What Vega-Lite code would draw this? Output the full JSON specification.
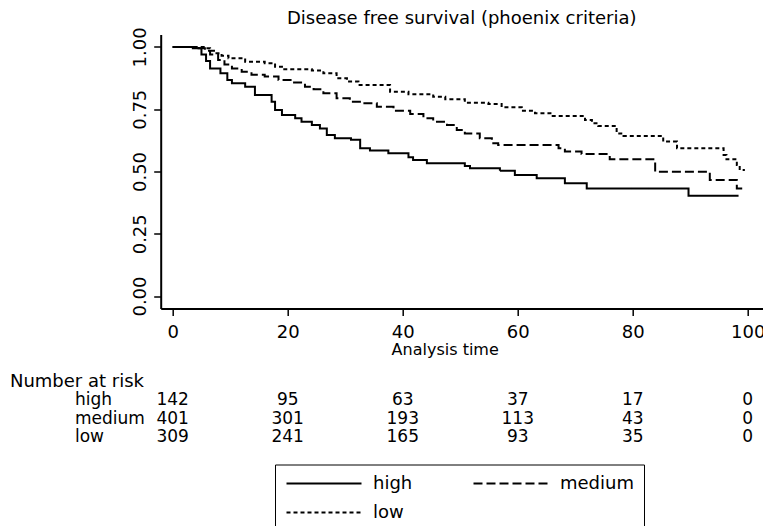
{
  "$schema": "https://vega.github.io/schema/vega-lite/v6.json",
  "autosize": {"type": "none"},
  "width": 602,
  "height": 274,
  "padding": {"left": 160.7, "top": 34.5, "right": 0.3, "bottom": 217.5},
  "background": "white",
  "config": {
    "font": "DejaVu Sans",
    "view": {"stroke": null},
    "axis": {
      "domainColor": "black", "domainWidth": 2, "tickColor": "black", "tickWidth": 1.5, "tickSize": 7,
      "labelFontSize": 18, "labelColor": "black", "grid": false, "titleColor": "black", "titleFontWeight": "normal"
    },
    "text": {"font": "DejaVu Sans", "fontSize": 17, "color": "black"}
  },
  "title": {"text": "Disease free survival (phoenix criteria)", "fontSize": 18, "fontWeight": "normal", "color": "black", "anchor": "middle", "frame": "group", "offset": -1},
  "datasets": {
    "km": [
      {"group": "high", "time": 0, "surv": 1.0},
      {"group": "high", "time": 3.5, "surv": 0.995},
      {"group": "high", "time": 5.0, "surv": 0.97},
      {"group": "high", "time": 5.8, "surv": 0.944},
      {"group": "high", "time": 6.5, "surv": 0.914},
      {"group": "high", "time": 8.3, "surv": 0.894},
      {"group": "high", "time": 9.5, "surv": 0.867},
      {"group": "high", "time": 10.3, "surv": 0.854},
      {"group": "high", "time": 12.6, "surv": 0.84},
      {"group": "high", "time": 14.3, "surv": 0.807},
      {"group": "high", "time": 17.2, "surv": 0.78},
      {"group": "high", "time": 17.8, "surv": 0.747},
      {"group": "high", "time": 19.0, "surv": 0.727},
      {"group": "high", "time": 21.3, "surv": 0.714},
      {"group": "high", "time": 22.4, "surv": 0.70},
      {"group": "high", "time": 24.2, "surv": 0.687},
      {"group": "high", "time": 25.6, "surv": 0.673},
      {"group": "high", "time": 26.8, "surv": 0.647},
      {"group": "high", "time": 28.2, "surv": 0.633},
      {"group": "high", "time": 31.0, "surv": 0.627},
      {"group": "high", "time": 32.6, "surv": 0.593},
      {"group": "high", "time": 34.3, "surv": 0.584},
      {"group": "high", "time": 37.5, "surv": 0.573},
      {"group": "high", "time": 41.0, "surv": 0.557},
      {"group": "high", "time": 41.8, "surv": 0.546},
      {"group": "high", "time": 44.2, "surv": 0.533},
      {"group": "high", "time": 50.8, "surv": 0.522},
      {"group": "high", "time": 51.7, "surv": 0.513},
      {"group": "high", "time": 56.9, "surv": 0.503},
      {"group": "high", "time": 59.5, "surv": 0.486},
      {"group": "high", "time": 63.3, "surv": 0.473},
      {"group": "high", "time": 68.2, "surv": 0.453},
      {"group": "high", "time": 72.0, "surv": 0.432},
      {"group": "high", "time": 89.7, "surv": 0.403},
      {"group": "high", "time": 98.4, "surv": 0.403},
      {"group": "medium", "time": 0, "surv": 1.0},
      {"group": "medium", "time": 4.5, "surv": 0.995},
      {"group": "medium", "time": 5.6, "surv": 0.985},
      {"group": "medium", "time": 6.5, "surv": 0.97},
      {"group": "medium", "time": 7.9, "surv": 0.948},
      {"group": "medium", "time": 9.0, "surv": 0.93},
      {"group": "medium", "time": 10.3, "surv": 0.914},
      {"group": "medium", "time": 12.0, "surv": 0.90},
      {"group": "medium", "time": 13.7, "surv": 0.888},
      {"group": "medium", "time": 16.0, "surv": 0.881},
      {"group": "medium", "time": 18.4, "surv": 0.867},
      {"group": "medium", "time": 20.7, "surv": 0.857},
      {"group": "medium", "time": 23.0, "surv": 0.84},
      {"group": "medium", "time": 24.5, "surv": 0.83},
      {"group": "medium", "time": 26.2, "surv": 0.814},
      {"group": "medium", "time": 28.5, "surv": 0.794},
      {"group": "medium", "time": 30.8, "surv": 0.78},
      {"group": "medium", "time": 33.1, "surv": 0.774},
      {"group": "medium", "time": 35.5, "surv": 0.76},
      {"group": "medium", "time": 38.4, "surv": 0.744},
      {"group": "medium", "time": 41.3, "surv": 0.731},
      {"group": "medium", "time": 43.6, "surv": 0.714},
      {"group": "medium", "time": 45.3, "surv": 0.70},
      {"group": "medium", "time": 47.7, "surv": 0.687},
      {"group": "medium", "time": 49.4, "surv": 0.667},
      {"group": "medium", "time": 50.8, "surv": 0.653},
      {"group": "medium", "time": 53.4, "surv": 0.633},
      {"group": "medium", "time": 55.5, "surv": 0.613},
      {"group": "medium", "time": 56.6, "surv": 0.606},
      {"group": "medium", "time": 67.1, "surv": 0.593},
      {"group": "medium", "time": 68.2, "surv": 0.58},
      {"group": "medium", "time": 71.1, "surv": 0.570},
      {"group": "medium", "time": 76.0, "surv": 0.549},
      {"group": "medium", "time": 83.9, "surv": 0.499},
      {"group": "medium", "time": 93.4, "surv": 0.466},
      {"group": "medium", "time": 98.1, "surv": 0.432},
      {"group": "medium", "time": 99.2, "surv": 0.432},
      {"group": "low", "time": 0, "surv": 1.0},
      {"group": "low", "time": 5.6, "surv": 0.995},
      {"group": "low", "time": 6.5, "surv": 0.985},
      {"group": "low", "time": 7.4, "surv": 0.975},
      {"group": "low", "time": 8.5, "surv": 0.965},
      {"group": "low", "time": 9.7, "surv": 0.955},
      {"group": "low", "time": 12.6, "surv": 0.941},
      {"group": "low", "time": 16.0, "surv": 0.935},
      {"group": "low", "time": 17.8, "surv": 0.921},
      {"group": "low", "time": 19.0, "surv": 0.91},
      {"group": "low", "time": 24.2, "surv": 0.905},
      {"group": "low", "time": 26.2, "surv": 0.894},
      {"group": "low", "time": 28.5, "surv": 0.874},
      {"group": "low", "time": 30.3, "surv": 0.861},
      {"group": "low", "time": 32.3, "surv": 0.847},
      {"group": "low", "time": 37.8, "surv": 0.82},
      {"group": "low", "time": 41.0, "surv": 0.81},
      {"group": "low", "time": 45.3, "surv": 0.80},
      {"group": "low", "time": 47.4, "surv": 0.79},
      {"group": "low", "time": 50.8, "surv": 0.776},
      {"group": "low", "time": 54.9, "surv": 0.771},
      {"group": "low", "time": 57.2, "surv": 0.758},
      {"group": "low", "time": 60.7, "surv": 0.744},
      {"group": "low", "time": 63.0, "surv": 0.734},
      {"group": "low", "time": 65.9, "surv": 0.723},
      {"group": "low", "time": 71.7, "surv": 0.707},
      {"group": "low", "time": 72.9, "surv": 0.694},
      {"group": "low", "time": 74.0, "surv": 0.683},
      {"group": "low", "time": 77.2, "surv": 0.653},
      {"group": "low", "time": 78.4, "surv": 0.643},
      {"group": "low", "time": 85.3, "surv": 0.62},
      {"group": "low", "time": 87.7, "surv": 0.593},
      {"group": "low", "time": 95.8, "surv": 0.566},
      {"group": "low", "time": 96.3, "surv": 0.549},
      {"group": "low", "time": 98.1, "surv": 0.526},
      {"group": "low", "time": 98.6, "surv": 0.506},
      {"group": "low", "time": 99.5, "surv": 0.506}
    ],
    "risk": [
      {"group": "high", "time": 0, "n": 142},
      {"group": "high", "time": 20, "n": 95},
      {"group": "high", "time": 40, "n": 63},
      {"group": "high", "time": 60, "n": 37},
      {"group": "high", "time": 80, "n": 17},
      {"group": "high", "time": 100, "n": 0},
      {"group": "medium", "time": 0, "n": 401},
      {"group": "medium", "time": 20, "n": 301},
      {"group": "medium", "time": 40, "n": 193},
      {"group": "medium", "time": 60, "n": 113},
      {"group": "medium", "time": 80, "n": 43},
      {"group": "medium", "time": 100, "n": 0},
      {"group": "low", "time": 0, "n": 309},
      {"group": "low", "time": 20, "n": 241},
      {"group": "low", "time": 40, "n": 165},
      {"group": "low", "time": 60, "n": 93},
      {"group": "low", "time": 80, "n": 35},
      {"group": "low", "time": 100, "n": 0}
    ],
    "header": [{"group": "Number at risk"}]
  },
  "layer": [
    {
      "data": {"name": "km"},
      "mark": {"type": "line", "interpolate": "step-after", "color": "black", "strokeWidth": 2},
      "encoding": {
        "x": {"field": "time", "type": "quantitative",
          "scale": {"domain": [-2.087, 102.6], "nice": false, "zero": false},
          "axis": {"values": [0, 20, 40, 60, 80, 100], "title": "Analysis time", "titleFontSize": 16, "titlePadding": 0, "titleX": 284, "labelPadding": 8, "labelFlush": false}},
        "y": {"field": "surv", "type": "quantitative",
          "scale": {"domain": [-0.05, 1.05], "nice": false, "zero": false},
          "axis": {"values": [0, 0.25, 0.5, 0.75, 1], "format": ".2f", "title": null, "labelAngle": 270, "labelAlign": "center", "labelBaseline": "alphabetic", "labelPadding": 8}},
        "strokeDash": {"field": "group", "type": "nominal",
          "scale": {"domain": ["high", "medium", "low"], "range": [[1, 0], [9, 4], [4, 3]]},
          "legend": {"title": null, "orient": "none", "legendX": 114.3, "legendY": 430, "columns": 2, "direction": "horizontal",
            "strokeColor": "black", "fillColor": "white", "padding": 10,
            "symbolType": "M-1,0H9", "symbolSize": 225, "symbolStrokeWidth": 2, "symbolStrokeColor": "black", "symbolFillColor": "transparent",
            "labelFontSize": 18, "labelColor": "black", "labelOffset": 70, "columnPadding": 56, "rowPadding": 11}}
      }
    },
    {
      "layer": [
        {
          "data": {"name": "risk"},
          "mark": {"type": "text", "align": "center", "baseline": "alphabetic"},
          "encoding": {
            "x": {"field": "time", "type": "quantitative"},
            "y": {"field": "group", "type": "ordinal", "scale": {"type": "point", "domain": ["Number at risk", "high", "medium", "low"], "range": [352, 407.5], "padding": 0}, "axis": null},
            "text": {"field": "n"}
          }
        },
        {
          "data": {"name": "risk"},
          "transform": [{"filter": "datum.time == 0"}],
          "mark": {"type": "text", "align": "left", "baseline": "alphabetic"},
          "encoding": {
            "x": {"datum": -17},
            "y": {"field": "group", "type": "ordinal"},
            "text": {"field": "group"}
          }
        },
        {
          "data": {"name": "header"},
          "mark": {"type": "text", "align": "left", "baseline": "alphabetic", "fontSize": 18},
          "encoding": {
            "x": {"datum": -28.3},
            "y": {"field": "group", "type": "ordinal"},
            "text": {"field": "group"}
          }
        }
      ]
    }
  ],
  "resolve": {"scale": {"y": "independent"}}
}
